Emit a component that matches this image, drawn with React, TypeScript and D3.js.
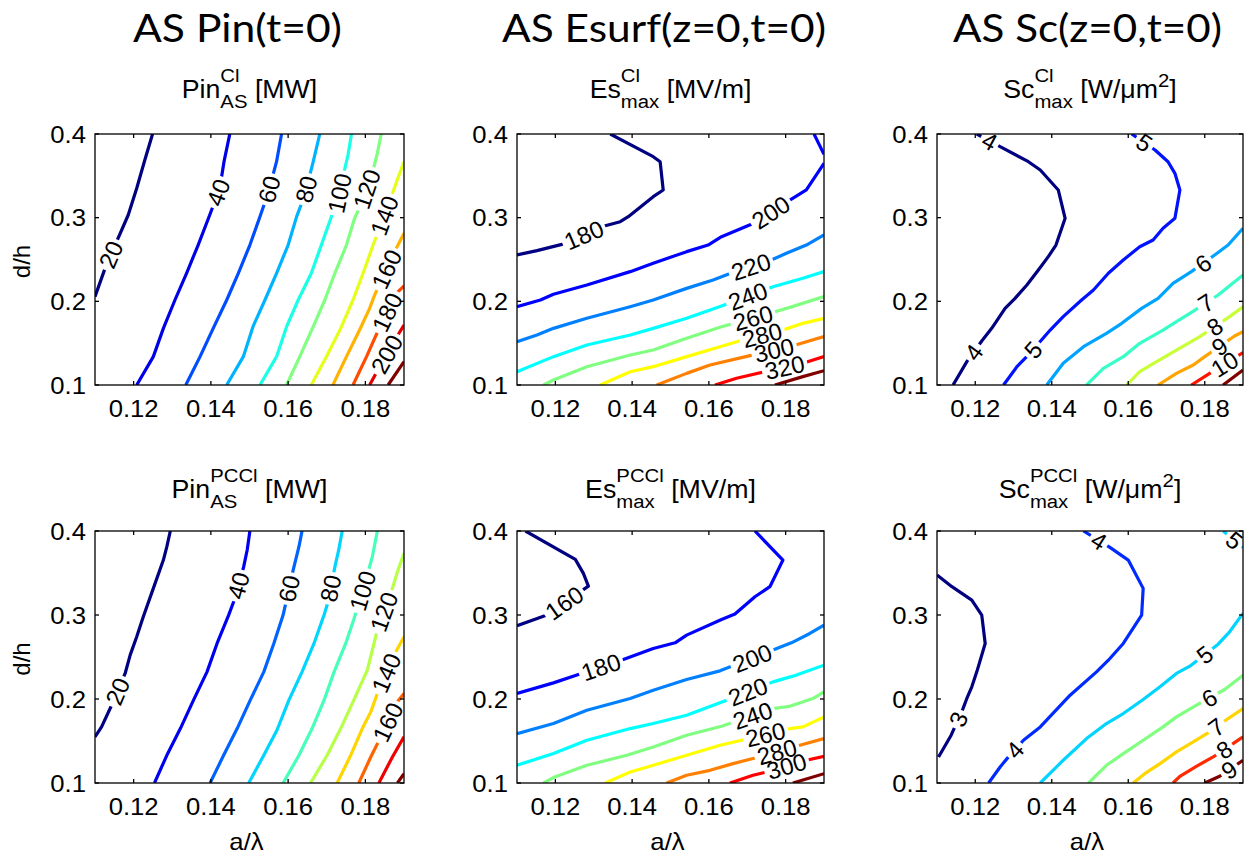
import React from 'react';
import * as d3 from 'd3';

type Pt = [number, number];
type CLine = { level: number; pts: Pt[] };
type CLabel = [number, number, number]; // level, x, y (data)

// ---------- shared axes data ----------
const xDomain: [number, number] = [0.11, 0.19];
const yDomain: [number, number] = [0.1, 0.4];
const xTicks = [0.12, 0.14, 0.16, 0.18];
const xTickLabels = ['0.12', '0.14', '0.16', '0.18'];
const yTicks = [0.1, 0.2, 0.3, 0.4];
const yTickLabels = ['0.1', '0.2', '0.3', '0.4'];
const mainTitles = ['AS Pin(t=0)', 'AS Esurf(z=0,t=0)', 'AS Sc(z=0,t=0)'];
const xAxisLabel = 'a/\u03bb';
const yAxisLabel = 'd/h';

// ---------- Pin, Cl ----------
const pinClLevels = [20, 40, 60, 80, 100, 120, 140, 160, 180, 200, 220];
const pinClLines: CLine[] = [
  { level: 20, pts: [[0.110, 0.2056], [0.1126, 0.2394], [0.1152, 0.2673], [0.1186, 0.3032], [0.1208, 0.3351], [0.1229, 0.3689], [0.1249, 0.4]] },
  { level: 40, pts: [[0.1208, 0.1], [0.1251, 0.1339], [0.1277, 0.1677], [0.1307, 0.2016], [0.1337, 0.2335], [0.1367, 0.2673], [0.1397, 0.3032], [0.1423, 0.3351], [0.1434, 0.3669], [0.1449, 0.4]] },
  { level: 60, pts: [[0.1335, 0.1], [0.1372, 0.1339], [0.1406, 0.1677], [0.1441, 0.2016], [0.1471, 0.2335], [0.1501, 0.2673], [0.1527, 0.3012], [0.1548, 0.3291], [0.1570, 0.3669], [0.1583, 0.4]] },
  { level: 80, pts: [[0.1441, 0.1], [0.1484, 0.1339], [0.1509, 0.1697], [0.1540, 0.2016], [0.1570, 0.2335], [0.1600, 0.2673], [0.1622, 0.3012], [0.1643, 0.3271], [0.1665, 0.3669], [0.1682, 0.4]] },
  { level: 100, pts: [[0.1527, 0.1], [0.1570, 0.1339], [0.1596, 0.1697], [0.1626, 0.2016], [0.1660, 0.2335], [0.1686, 0.2673], [0.1712, 0.3012], [0.1729, 0.3211], [0.1742, 0.349], [0.1755, 0.3749], [0.1764, 0.4]] },
  { level: 120, pts: [[0.1596, 0.1], [0.1630, 0.1339], [0.1665, 0.1697], [0.1695, 0.2016], [0.1721, 0.2335], [0.1751, 0.2673], [0.1772, 0.2992], [0.1794, 0.3211], [0.1820, 0.357], [0.1830, 0.3749], [0.1841, 0.4]] },
  { level: 140, pts: [[0.1660, 0.1], [0.1699, 0.1339], [0.1734, 0.1657], [0.1768, 0.2016], [0.1794, 0.2335], [0.1820, 0.2673], [0.1837, 0.2873], [0.1867, 0.3251], [0.1884, 0.347], [0.19, 0.3669]] },
  { level: 160, pts: [[0.1716, 0.1], [0.1751, 0.1339], [0.1785, 0.1657], [0.1811, 0.1916], [0.1824, 0.2076], [0.1880, 0.2633], [0.19, 0.2813]] },
  { level: 180, pts: [[0.1768, 0.1], [0.1803, 0.1339], [0.1828, 0.1598], [0.1880, 0.2096], [0.19, 0.2183]] },
  { level: 200, pts: [[0.1811, 0.1], [0.1837, 0.1219], [0.1867, 0.1466], [0.19, 0.1717]] },
  { level: 220, pts: [[0.1859, 0.1], [0.19, 0.1279]] },
];
const pinClLabels: CLabel[] = [
  [20, 0.1143, 0.2554], [40, 0.1413, 0.3311], [60, 0.1557, 0.3331], [80, 0.1654, 0.3331],
  [100, 0.1734, 0.3291], [120, 0.1811, 0.3331], [140, 0.1846, 0.3032], [160, 0.1859, 0.2375],
  [180, 0.1854, 0.1876], [200, 0.1859, 0.1359],
];

// ---------- Es, Cl ----------
const esClLevels = [180, 200, 220, 240, 260, 280, 300, 320, 340];
const esClLines: CLine[] = [
  { level: 180, pts: [[0.11, 0.2554], [0.1152, 0.2606], [0.1217, 0.2681], [0.1330, 0.2904], [0.1369, 0.2952], [0.1390, 0.3012], [0.1455, 0.3251], [0.1481, 0.3331], [0.1473, 0.3669], [0.1455, 0.3729], [0.1343, 0.4]] },
  { level: 200, pts: [[0.11, 0.1936], [0.1161, 0.2016], [0.1195, 0.2084], [0.1282, 0.2195], [0.1395, 0.2355], [0.1455, 0.2454], [0.1542, 0.2594], [0.1598, 0.2673], [0.1633, 0.2773], [0.1720, 0.294], [0.1811, 0.3211], [0.1854, 0.3331], [0.19, 0.3649]] },
  { level: 200, pts: [[0.1874, 0.4], [0.19, 0.3757]] },
  { level: 220, pts: [[0.11, 0.1518], [0.1152, 0.1598], [0.1195, 0.1677], [0.1282, 0.1797], [0.1395, 0.1936], [0.1455, 0.2016], [0.1542, 0.2155], [0.1611, 0.2255], [0.1650, 0.2323], [0.1767, 0.2502], [0.1802, 0.2574], [0.1854, 0.2673], [0.19, 0.2793]] },
  { level: 240, pts: [[0.11, 0.1159], [0.1195, 0.1339], [0.1282, 0.1478], [0.1395, 0.1598], [0.1455, 0.1677], [0.1542, 0.1797], [0.1633, 0.1944], [0.1767, 0.2175], [0.1845, 0.2275], [0.19, 0.2355]] },
  { level: 260, pts: [[0.1169, 0.1], [0.1195, 0.106], [0.1282, 0.1219], [0.1395, 0.1359], [0.1455, 0.1418], [0.1542, 0.1558], [0.1633, 0.1697], [0.1772, 0.1876], [0.1811, 0.1928], [0.19, 0.2056]] },
  { level: 280, pts: [[0.1317, 0.1], [0.1395, 0.1159], [0.1455, 0.1219], [0.1542, 0.1339], [0.1629, 0.1458], [0.1681, 0.1530], [0.1798, 0.1665], [0.1845, 0.1737], [0.19, 0.1797]] },
  { level: 300, pts: [[0.1464, 0.1], [0.1542, 0.1139], [0.1603, 0.1239], [0.1685, 0.1327], [0.1819, 0.1470], [0.19, 0.1578]] },
  { level: 320, pts: [[0.1616, 0.1], [0.1672, 0.108], [0.1746, 0.1159], [0.1845, 0.1259], [0.19, 0.1339]] },
  { level: 340, pts: [[0.1772, 0.1], [0.1845, 0.11], [0.19, 0.1171]] },
];
const esClLabels: CLabel[] = [
  [180, 0.1278, 0.2753], [200, 0.1763, 0.3052], [220, 0.1711, 0.2394], [240, 0.1702, 0.2056],
  [260, 0.1715, 0.1797], [280, 0.1741, 0.1558], [300, 0.1772, 0.1378], [320, 0.1798, 0.1199],
];

// ---------- Sc, Cl ----------
const scClLevels = [4, 5, 6, 7, 8, 9, 10, 11];
const scClLines: CLine[] = [
  { level: 4, pts: [[0.1142, 0.1], [0.1178, 0.1279], [0.1217, 0.1526], [0.1243, 0.1677], [0.1278, 0.1916], [0.1304, 0.2036], [0.1335, 0.2195], [0.1365, 0.2375], [0.1391, 0.2534], [0.1411, 0.2673], [0.1435, 0.2992], [0.1417, 0.3331], [0.1370, 0.357], [0.1339, 0.3669], [0.1265, 0.3849], [0.1204, 0.4]] },
  { level: 5, pts: [[0.1274, 0.1], [0.1309, 0.1219], [0.1339, 0.1359], [0.1396, 0.1657], [0.1430, 0.1817], [0.1478, 0.2016], [0.1509, 0.2135], [0.1548, 0.2335], [0.1587, 0.2494], [0.1630, 0.2653], [0.1665, 0.2733], [0.1691, 0.2873], [0.1722, 0.2992], [0.1735, 0.3331], [0.1722, 0.353], [0.1704, 0.3669], [0.1670, 0.3809], [0.1609, 0.4]] },
  { level: 6, pts: [[0.1387, 0.1], [0.1430, 0.1259], [0.1483, 0.1458], [0.1543, 0.1618], [0.1583, 0.1737], [0.1635, 0.1916], [0.1678, 0.2036], [0.1717, 0.2215], [0.1765, 0.2355], [0.1826, 0.2554], [0.1861, 0.2673], [0.19, 0.2873]] },
  { level: 7, pts: [[0.1491, 0.1], [0.1535, 0.1199], [0.1587, 0.1339], [0.1630, 0.1498], [0.1691, 0.1657], [0.1726, 0.1757], [0.1761, 0.1857], [0.1835, 0.2076], [0.19, 0.2315]] },
  { level: 8, pts: [[0.1596, 0.1], [0.1630, 0.1159], [0.1674, 0.1279], [0.1726, 0.1418], [0.1787, 0.1578], [0.1865, 0.1817], [0.19, 0.1936]] },
  { level: 9, pts: [[0.1678, 0.1], [0.1726, 0.1139], [0.1770, 0.1239], [0.1800, 0.1339], [0.1878, 0.1586], [0.19, 0.1637]] },
  { level: 10, pts: [[0.1765, 0.1], [0.1813, 0.1139], [0.19, 0.1386]] },
  { level: 11, pts: [[0.1848, 0.1], [0.19, 0.1179]] },
];
const scClLabels: CLabel[] = [
  [4, 0.12, 0.1378], [4, 0.1237, 0.3908], [5, 0.1357, 0.1398], [5, 0.1641, 0.3888],
  [6, 0.1796, 0.2454], [7, 0.1804, 0.1976], [8, 0.1826, 0.1697], [9, 0.1839, 0.1458], [10, 0.1848, 0.1279],
];

// ---------- Pin, PCCl ----------
const pinPcLevels = [20, 40, 60, 80, 100, 120, 140, 160, 180, 200];
const pinPcLines: CLine[] = [
  { level: 20, pts: [[0.11, 0.1549], [0.1117, 0.1668], [0.1143, 0.1926], [0.1178, 0.2304], [0.1191, 0.2522], [0.1208, 0.2741], [0.1225, 0.2979], [0.1251, 0.3317], [0.1277, 0.3654], [0.1286, 0.3813], [0.1295, 0.4]] },
  { level: 40, pts: [[0.1254, 0.1], [0.1286, 0.133], [0.1321, 0.1648], [0.1355, 0.1986], [0.1390, 0.2323], [0.1416, 0.2661], [0.1446, 0.2999], [0.1459, 0.3158], [0.1485, 0.3575], [0.1494, 0.3774], [0.1501, 0.4]] },
  { level: 60, pts: [[0.1398, 0.1], [0.1433, 0.133], [0.1468, 0.1648], [0.1502, 0.1986], [0.1537, 0.2323], [0.1563, 0.2661], [0.1587, 0.2999], [0.1613, 0.3535], [0.1628, 0.3813], [0.1636, 0.4]] },
  { level: 80, pts: [[0.1498, 0.1], [0.1537, 0.133], [0.1571, 0.1628], [0.1602, 0.1986], [0.1636, 0.2323], [0.1667, 0.2661], [0.1693, 0.2999], [0.1701, 0.3118], [0.1723, 0.3615], [0.1731, 0.3774], [0.1740, 0.4]] },
  { level: 100, pts: [[0.1587, 0.1], [0.1628, 0.133], [0.1662, 0.1648], [0.1693, 0.1986], [0.1719, 0.2323], [0.1749, 0.2661], [0.1770, 0.2947], [0.1805, 0.3476], [0.1818, 0.3694], [0.1831, 0.4]] },
  { level: 120, pts: [[0.1658, 0.1], [0.1701, 0.133], [0.1736, 0.1648], [0.1770, 0.1986], [0.1805, 0.2343], [0.1831, 0.282], [0.1870, 0.3317], [0.1883, 0.3515], [0.19, 0.3734]] },
  { level: 140, pts: [[0.1727, 0.1], [0.1762, 0.133], [0.1792, 0.1648], [0.1814, 0.1847], [0.1831, 0.2065], [0.1874, 0.2522], [0.19, 0.2741]] },
  { level: 160, pts: [[0.1783, 0.1], [0.1814, 0.131], [0.1840, 0.1549], [0.1883, 0.1966], [0.19, 0.2065]] },
  { level: 180, pts: [[0.1835, 0.1], [0.1870, 0.131], [0.19, 0.1549]] },
  { level: 200, pts: [[0.1883, 0.1], [0.19, 0.1111]] },
];
const pinPcLabels: CLabel[] = [
  [20, 0.1161, 0.2085], [40, 0.1475, 0.3344], [60, 0.1599, 0.3317], [80, 0.1710, 0.3317],
  [100, 0.1801, 0.3277], [120, 0.1848, 0.3039], [140, 0.1857, 0.2304], [160, 0.1857, 0.1727],
];

// ---------- Es, PCCl ----------
const esPcLevels = [160, 180, 200, 220, 240, 260, 280, 300, 320];
const esPcLines: CLine[] = [
  { level: 160, pts: [[0.1122, 0.4], [0.1252, 0.3662], [0.1273, 0.3495], [0.1286, 0.3344], [0.1178, 0.2999], [0.11, 0.2872]] },
  { level: 180, pts: [[0.11, 0.2065], [0.1195, 0.2192], [0.1260, 0.2292], [0.1377, 0.247], [0.1455, 0.2602], [0.1512, 0.2669], [0.1542, 0.2760], [0.1633, 0.2947], [0.1668, 0.3011], [0.1720, 0.3217], [0.1759, 0.3337], [0.1793, 0.3654], [0.1720, 0.4]] },
  { level: 200, pts: [[0.11, 0.1588], [0.1195, 0.1708], [0.1282, 0.1867], [0.1395, 0.2006], [0.1455, 0.2105], [0.1542, 0.2232], [0.1629, 0.2335], [0.1767, 0.2582], [0.1815, 0.2669], [0.1863, 0.278], [0.19, 0.288]] },
  { level: 220, pts: [[0.11, 0.1211], [0.1195, 0.135], [0.1282, 0.1509], [0.1395, 0.1648], [0.1455, 0.1708], [0.1542, 0.1807], [0.1646, 0.1986], [0.1767, 0.2204], [0.1819, 0.2272], [0.19, 0.2403]] },
  { level: 240, pts: [[0.1169, 0.1], [0.1195, 0.1064], [0.1282, 0.1211], [0.1386, 0.1330], [0.1455, 0.1429], [0.1542, 0.1569], [0.1633, 0.1676], [0.1767, 0.1886], [0.1811, 0.1914], [0.1871, 0.2005], [0.19, 0.2085]] },
  { level: 260, pts: [[0.1330, 0.1], [0.1395, 0.1131], [0.1455, 0.1211], [0.1542, 0.133], [0.1629, 0.1449], [0.1685, 0.1509], [0.1811, 0.1648], [0.1845, 0.1668], [0.19, 0.1787]] },
  { level: 280, pts: [[0.1490, 0.1], [0.1542, 0.1092], [0.1603, 0.1151], [0.1663, 0.1231], [0.1720, 0.1298], [0.1837, 0.1449], [0.19, 0.1529]] },
  { level: 300, pts: [[0.1655, 0.1], [0.1715, 0.1092], [0.1750, 0.1131], [0.1854, 0.1271], [0.19, 0.1318]] },
  { level: 320, pts: [[0.1819, 0.1], [0.19, 0.1111]] },
];
const esPcLabels: CLabel[] = [
  [160, 0.1221, 0.3158], [180, 0.1321, 0.2351], [200, 0.1715, 0.2462], [220, 0.1702, 0.2085],
  [240, 0.1715, 0.1787], [260, 0.1750, 0.1529], [280, 0.1776, 0.1390], [300, 0.1802, 0.1211],
];

// ---------- Sc, PCCl ----------
const scPcLevels = [3, 4, 5, 6, 7, 8, 9];
const scPcLines: CLine[] = [
  { level: 3, pts: [[0.11, 0.3476], [0.1139, 0.3337], [0.1191, 0.3178], [0.1217, 0.2999], [0.1226, 0.2661], [0.1204, 0.2323], [0.1191, 0.2145], [0.1178, 0.2006], [0.1168, 0.1886], [0.1137, 0.1569], [0.1104, 0.131]] },
  { level: 4, pts: [[0.1235, 0.1], [0.1265, 0.1191], [0.1283, 0.1290], [0.1326, 0.1509], [0.1370, 0.1668], [0.1448, 0.2045], [0.1517, 0.2323], [0.1548, 0.2462], [0.1587, 0.2661], [0.1635, 0.2999], [0.1639, 0.3317], [0.1600, 0.3654], [0.1552, 0.3805], [0.1483, 0.4]] },
  { level: 5, pts: [[0.1370, 0.1], [0.1430, 0.1271], [0.1491, 0.1529], [0.1543, 0.1708], [0.1587, 0.1827], [0.1639, 0.1994], [0.1683, 0.2145], [0.1726, 0.2304], [0.1761, 0.2391], [0.1835, 0.2653], [0.1865, 0.28], [0.19, 0.3019]] },
  { level: 5, pts: [[0.1848, 0.4], [0.19, 0.3805]] },
  { level: 6, pts: [[0.1496, 0.1], [0.1543, 0.1211], [0.1587, 0.135], [0.1639, 0.1509], [0.1691, 0.1668], [0.1726, 0.1787], [0.1774, 0.1914], [0.1852, 0.2113], [0.19, 0.2284]] },
  { level: 7, pts: [[0.1613, 0.1], [0.1643, 0.1111], [0.1683, 0.1231], [0.1726, 0.137], [0.1770, 0.1489], [0.1813, 0.1608], [0.1861, 0.1767], [0.19, 0.1886]] },
  { level: 8, pts: [[0.1717, 0.1], [0.1735, 0.108], [0.1778, 0.1199], [0.1822, 0.131], [0.1874, 0.1469], [0.19, 0.1549]] },
  { level: 9, pts: [[0.1800, 0.1], [0.1839, 0.108], [0.19, 0.127]] },
];
const scPcLabels: CLabel[] = [
  [3, 0.1152, 0.1767], [4, 0.1304, 0.1390], [4, 0.1522, 0.3873], [5, 0.1796, 0.255], [5, 0.1878, 0.3893],
  [6, 0.1813, 0.2006], [7, 0.1830, 0.1668], [8, 0.1852, 0.139], [9, 0.1865, 0.1151],
];

// ---------- rendering helpers ----------
const W = 1249;
const H = 858;
const ARIAL = "'Liberation Sans', Arial, Helvetica, sans-serif";
const TITLE_FONT = "Lato, 'Open Sans', sans-serif";
const SX = 1.07; // horizontal stretch of the reference text
const LABEL_FS = 24;
const TICK_FS = 24;

function jet(t: number): string {
  const c = (v: number) => Math.round(255 * Math.max(0, Math.min(1, v)));
  return `rgb(${c(1.5 - Math.abs(4 * t - 3))},${c(1.5 - Math.abs(4 * t - 2))},${c(1.5 - Math.abs(4 * t - 1))})`;
}

let measureCtx: CanvasRenderingContext2D | null = null;
function measure(text: string, size: number, family = ARIAL): number {
  if (!measureCtx) measureCtx = document.createElement('canvas').getContext('2d');
  if (!measureCtx) return text.length * size * 0.55;
  measureCtx.font = `${size}px ${family}`;
  return measureCtx.measureText(text).width;
}

function snap(pts: number[][], p: number[]) {
  let best = { d: Infinity, x: p[0], y: p[1], ang: 0 };
  for (let i = 0; i < pts.length - 1; i++) {
    const [ax, ay] = pts[i];
    const [bx, by] = pts[i + 1];
    const dx = bx - ax;
    const dy = by - ay;
    const L2 = dx * dx + dy * dy || 1;
    let t = ((p[0] - ax) * dx + (p[1] - ay) * dy) / L2;
    t = Math.max(0, Math.min(1, t));
    const x = ax + t * dx;
    const y = ay + t * dy;
    const d = (x - p[0]) ** 2 + (y - p[1]) ** 2;
    if (d < best.d) {
      let ang = (Math.atan2(dy, dx) * 180) / Math.PI;
      if (ang > 90) ang -= 180;
      if (ang < -90) ang += 180;
      best = { d, x, y, ang };
    }
  }
  return best;
}

type Piece = [string, boolean]; // text, superscript
type SubSpec = { base: string; sup: string; sub: string; unit: Piece[] };

function Subtitle({ cx, y, spec }: { cx: number; y: number; spec: SubSpec }) {
  const FS = 25;
  const SFS = 19;
  const wBase = measure(spec.base, FS);
  const wScript = Math.max(measure(spec.sup, SFS), measure(spec.sub, SFS));
  const unitW = spec.unit.map(([t, s]) => measure(t, s ? SFS : FS));
  const total = wBase + wScript + unitW.reduce((a, b) => a + b, 0);
  let x = -total / 2;
  const items: React.ReactNode[] = [];
  items.push(<text key="b" x={x} y={0} fontSize={FS}>{spec.base}</text>);
  x += wBase;
  items.push(<text key="sp" x={x} y={-16} fontSize={SFS}>{spec.sup}</text>);
  items.push(<text key="sb" x={x} y={10} fontSize={SFS}>{spec.sub}</text>);
  x += wScript;
  spec.unit.forEach(([t, s], i) => {
    items.push(
      <text key={'u' + i} x={x} y={s ? -11 : 0} fontSize={s ? SFS : FS} style={{ whiteSpace: 'pre' }}>{t}</text>
    );
    x += unitW[i];
  });
  return (
    <g transform={`translate(${cx},${y}) scale(${SX},1)`} fontFamily={ARIAL} fill="#000">
      {items}
    </g>
  );
}

type PanelProps = {
  id: string;
  x0: number; x1: number; y0: number; y1: number;
  levels: number[]; lines: CLine[]; labels: CLabel[];
  sub: SubSpec; subY: number;
  showX: boolean; showY: boolean;
};

function Panel(props: PanelProps) {
  const { id, x0, x1, y0, y1, levels, lines, labels, sub, subY, showX, showY } = props;
  const xs = d3.scaleLinear().domain(xDomain).range([x0, x1]);
  const ys = d3.scaleLinear().domain(yDomain).range([y1, y0]);
  const colorOf = (lv: number) => jet(levels.indexOf(lv) / (levels.length - 1));
  const lineGen = d3.line<number[]>().x((d) => d[0]).y((d) => d[1]);
  const pxLines = lines.map((l) => ({ level: l.level, px: l.pts.map((p) => [xs(p[0]), ys(p[1])]) }));

  const placed = labels.map(([lv, x, y]) => {
    const p = [xs(x), ys(y)];
    let best: { d: number; x: number; y: number; ang: number } | null = null;
    let li = -1;
    pxLines.forEach((l, i) => {
      if (l.level !== lv) return;
      const s = snap(l.px, p);
      if (!best || s.d < best.d) { best = s; li = i; }
    });
    const b = best || { d: 0, x: p[0], y: p[1], ang: 0 };
    const text = String(lv);
    return { text, x: b.x, y: b.y, ang: b.ang, li, w: measure(text, LABEL_FS) };
  });

  const cx = (x0 + x1) / 2;
  const cy = (y0 + y1) / 2;
  const tick = 4;

  return (
    <g>
      <defs>
        <clipPath id={`${id}-clip`}>
          <rect x={x0} y={y0} width={x1 - x0} height={y1 - y0} />
        </clipPath>
        {pxLines.map((l, i) => (
          <mask id={`${id}-m${i}`} key={i} maskUnits="userSpaceOnUse" x={0} y={0} width={W} height={H}>
            <rect x={0} y={0} width={W} height={H} fill="white" />
            {placed.filter((p) => p.li === i).map((p, k) => (
              <rect key={k} x={-p.w / 2 - 3} y={-10} width={p.w + 6} height={20} fill="black"
                transform={`translate(${p.x},${p.y}) rotate(${p.ang})`} />
            ))}
          </mask>
        ))}
      </defs>

      <Subtitle cx={cx} y={subY} spec={sub} />

      <g clipPath={`url(#${id}-clip)`}>
        {pxLines.map((l, i) => (
          <path key={i} d={lineGen(l.px) || ''} fill="none" stroke={colorOf(l.level)} strokeWidth={3.2}
            strokeLinejoin="round" strokeLinecap="butt" mask={`url(#${id}-m${i})`} />
        ))}
      </g>

      {placed.map((p, k) => (
        <text key={k} transform={`translate(${p.x},${p.y}) rotate(${p.ang})`} textAnchor="middle" dy="0.36em"
          fontFamily={ARIAL} fontSize={LABEL_FS} fill="#000">{p.text}</text>
      ))}

      <rect x={x0} y={y0} width={x1 - x0} height={y1 - y0} fill="none" stroke="#000" strokeWidth={1.3} />
      {xTicks.map((t, i) => (
        <g key={'xt' + i}>
          <line x1={xs(t)} x2={xs(t)} y1={y1} y2={y1 - tick} stroke="#000" strokeWidth={1.3} />
          <line x1={xs(t)} x2={xs(t)} y1={y0} y2={y0 + tick} stroke="#000" strokeWidth={1.3} />
          <g transform={`translate(${xs(t)},${y1 + 32}) scale(${SX},1)`}>
            <text textAnchor="middle" fontFamily={ARIAL} fontSize={TICK_FS} fill="#000">{xTickLabels[i]}</text>
          </g>
        </g>
      ))}
      {yTicks.map((t, i) => (
        <g key={'yt' + i}>
          <line x1={x0} x2={x0 + tick} y1={ys(t)} y2={ys(t)} stroke="#000" strokeWidth={1.3} />
          <line x1={x1} x2={x1 - tick} y1={ys(t)} y2={ys(t)} stroke="#000" strokeWidth={1.3} />
          <g transform={`translate(${x0 - 9},${ys(t)}) scale(${SX},1)`}>
            <text textAnchor="end" dy="0.36em" fontFamily={ARIAL} fontSize={TICK_FS} fill="#000">{yTickLabels[i]}</text>
          </g>
        </g>
      ))}
      {showX && (
        <g transform={`translate(${cx - 3},${850}) scale(${SX},1)`}>
          <text textAnchor="middle" fontFamily={ARIAL} fontSize={TICK_FS} fill="#000">{xAxisLabel}</text>
        </g>
      )}
      {showY && (
        <g transform={`translate(${30},${cy + 2}) rotate(-90)`}>
          <text textAnchor="middle" fontFamily={ARIAL} fontSize={TICK_FS} fill="#000">{yAxisLabel}</text>
        </g>
      )}
    </g>
  );
}

const cols: [number, number][] = [[95, 404], [517, 824], [937, 1243]];
const rows: [number, number][] = [[134, 385], [531, 783]];
const subYs = [98, 498];
const titleBoxes: [number, number][] = [[133, 342], [502, 826], [953, 1222]];

export default function App() {
  const subs: SubSpec[] = [
    { base: 'Pin', sup: 'Cl', sub: 'AS', unit: [[' [MW]', false]] },
    { base: 'Es', sup: 'Cl', sub: 'max', unit: [[' [MV/m]', false]] },
    { base: 'Sc', sup: 'Cl', sub: 'max', unit: [[' [W/\u03bcm', false], ['2', true], [']', false]] },
    { base: 'Pin', sup: 'PCCl', sub: 'AS', unit: [[' [MW]', false]] },
    { base: 'Es', sup: 'PCCl', sub: 'max', unit: [[' [MV/m]', false]] },
    { base: 'Sc', sup: 'PCCl', sub: 'max', unit: [[' [W/\u03bcm', false], ['2', true], [']', false]] },
  ];
  const data = [
    [pinClLevels, pinClLines, pinClLabels],
    [esClLevels, esClLines, esClLabels],
    [scClLevels, scClLines, scClLabels],
    [pinPcLevels, pinPcLines, pinPcLabels],
    [esPcLevels, esPcLines, esPcLabels],
    [scPcLevels, scPcLines, scPcLabels],
  ] as [number[], CLine[], CLabel[]][];

  return (
    <svg width={W} height={H} viewBox={`0 0 ${W} ${H}`}
      style={{ position: 'absolute', left: 0, top: 0, background: '#fff' }}>
      <rect x={0} y={0} width={W} height={H} fill="#fff" />
      {mainTitles.map((t, i) => (
        <text key={i} x={(titleBoxes[i][0] + titleBoxes[i][1]) / 2} y={42} textAnchor="middle"
          fontFamily={TITLE_FONT} fontSize={38} fill="#000"
          textLength={titleBoxes[i][1] - titleBoxes[i][0]} lengthAdjust="spacingAndGlyphs">{t}</text>
      ))}
      {data.map(([levels, lines, labels], k) => {
        const r = Math.floor(k / 3);
        const c = k % 3;
        return (
          <Panel key={k} id={`p${k}`} x0={cols[c][0]} x1={cols[c][1]} y0={rows[r][0]} y1={rows[r][1]}
            levels={levels} lines={lines} labels={labels} sub={subs[k]} subY={subYs[r]}
            showX={r === 1} showY={c === 0} />
        );
      })}
    </svg>
  );
}
